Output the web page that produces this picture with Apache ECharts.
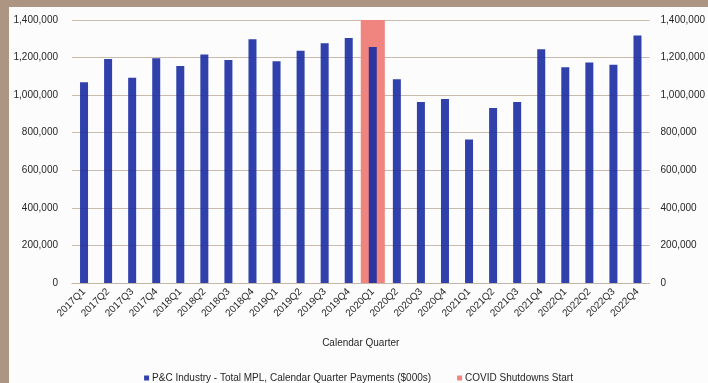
<!DOCTYPE html>
<html>
<head>
<meta charset="utf-8">
<script src="https://cdn.jsdelivr.net/npm/echarts@6/dist/echarts.min.js"></script>
<style>
  html, body { margin: 0; padding: 0; width: 708px; height: 383px; overflow: hidden; background: #ad9583; }
  #chart { position: absolute; left: 9px; top: 7px; width: 699px; height: 376px; background: #fcfcfd; }
</style>
</head>
<body>
<div id="chart"></div>
<script>
// Quarterly medical professional liability payments, P&C industry ($000s)
const quarters = [
  '2017Q1','2017Q2','2017Q3','2017Q4',
  '2018Q1','2018Q2','2018Q3','2018Q4',
  '2019Q1','2019Q2','2019Q3','2019Q4',
  '2020Q1','2020Q2','2020Q3','2020Q4',
  '2021Q1','2021Q2','2021Q3','2021Q4',
  '2022Q1','2022Q2','2022Q3','2022Q4'
];
const payments = [
  1068000, 1192000, 1092000, 1196000,
  1155000, 1217000, 1187000, 1297000,
  1181000, 1236000, 1276000, 1304000,
  1256000, 1085000, 963000, 980000,
  764000, 932000, 964000, 1244000,
  1148000, 1174000, 1162000, 1318000
];
// Shutdown marker: a full-height column at the first pandemic quarter
const covidQuarter = '2020Q1';
const covidHeight = 1400000;
const covidBand = quarters.map(q => (q === covidQuarter ? covidHeight : null));

const yTicks = { min: 0, max: 1400000, interval: 200000 };
const seriesNames = [
  'P&C Industry - Total MPL, Calendar Quarter Payments ($000s)',
  'COVID Shutdowns Start'
];

const chart = echarts.init(document.getElementById('chart'), null, { renderer: 'canvas' });
const font = 'Liberation Sans, Arial, sans-serif';
const labelColor = '#262626';
const fmt = v => v.toLocaleString('en-US');

chart.setOption({
  animation: false,
  textStyle: { fontFamily: font },
  grid: { left: 63, right: 56, top: 13, bottom: 100 },
  legend: {
    top: 361,
    left: 'center',
    itemWidth: 5,
    itemHeight: 5,
    itemGap: 26,
    icon: 'rect',
    textStyle: { fontSize: 10, color: labelColor, fontFamily: font, padding: [0, 0, 0, -2] },
    data: seriesNames
  },
  xAxis: [
    {
      type: 'category',
      data: quarters,
      name: 'Calendar Quarter',
      nameLocation: 'middle',
      nameGap: 55,
      nameTextStyle: { fontSize: 10, color: labelColor },
      axisLine: { lineStyle: { color: '#c4b6a8', width: 1 } },
      axisTick: { show: false },
      axisLabel: { rotate: 45, fontSize: 10, color: labelColor, margin: 7, interval: 0 }
    },
    {
      type: 'category',
      data: quarters,
      show: false
    }
  ],
  yAxis: [
    {
      type: 'value',
      min: yTicks.min, max: yTicks.max, interval: yTicks.interval,
      axisLine: { show: false },
      axisTick: { show: false },
      axisLabel: { fontSize: 10, color: labelColor, margin: 14, formatter: fmt },
      splitLine: { lineStyle: { color: '#c8baac', width: 1 } }
    },
    {
      type: 'value',
      position: 'right',
      min: yTicks.min, max: yTicks.max, interval: yTicks.interval,
      axisLine: { show: false },
      axisTick: { show: false },
      axisLabel: { fontSize: 10, color: labelColor, margin: 11, formatter: fmt },
      splitLine: { show: false }
    }
  ],
  series: [
    {
      name: seriesNames[0],
      type: 'bar',
      data: payments,
      xAxisIndex: 0,
      yAxisIndex: 0,
      barWidth: 8,
      z: 3,
      itemStyle: { color: '#1a2ca3', opacity: 0.9 }
    },
    {
      name: seriesNames[1],
      type: 'bar',
      data: covidBand,
      xAxisIndex: 1,
      yAxisIndex: 1,
      barWidth: '100%',
      z: 2,
      itemStyle: { color: '#f0857f' }
    }
  ]
});
</script>
</body>
</html>
